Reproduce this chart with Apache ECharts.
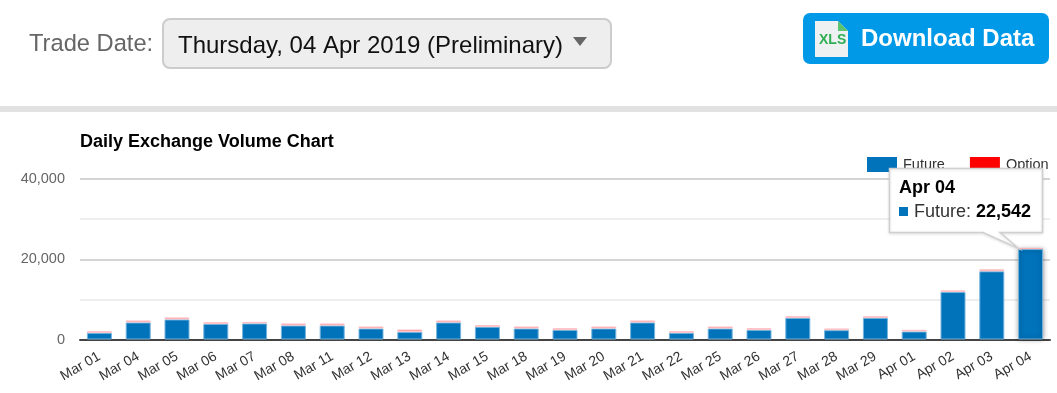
<!DOCTYPE html>
<html>
<head>
<meta charset="utf-8">
<style>html,body{margin:0;padding:0;background:#fff}#c{width:1057px;height:393px}</style>
<script src="https://cdn.jsdelivr.net/npm/echarts@6/dist/echarts.min.js"></script>
</head>
<body>
<div id="c"></div>
<script>
var categories = ['Mar 01','Mar 04','Mar 05','Mar 06','Mar 07','Mar 08','Mar 11','Mar 12','Mar 13','Mar 14','Mar 15','Mar 18','Mar 19','Mar 20','Mar 21','Mar 22','Mar 25','Mar 26','Mar 27','Mar 28','Mar 29','Apr 01','Apr 02','Apr 03','Apr 04'];
var futureValues = [1670,4250,5000,3900,4000,3500,3500,2750,1900,4250,3170,2750,2400,2750,4250,1670,2750,2400,5400,2330,5400,2000,11830,17000,22542];
var optionValues = [410,500,500,430,400,500,500,500,600,500,410,500,430,500,500,410,500,430,430,420,430,420,420,500,300];
var titleText = 'Daily Exchange Volume Chart';
var tradeDateLabel = 'Trade Date:';
var tradeDateValue = 'Thursday, 04 Apr 2019 (Preliminary)';
var downloadLabel = 'Download Data';
var tipIndex = 24;

var FONT = '"Liberation Sans", Arial, sans-serif';
var chart = echarts.init(document.getElementById('c'), null, {renderer:'canvas', width:1057, height:393});

function futureData(){
  return futureValues.map(function(v,i){
    return i===tipIndex ? {value:v,itemStyle:{shadowBlur:5,shadowColor:'rgba(0,0,0,0.45)'}} : v;
  });
}
function optionData(){
  return optionValues.map(function(v,i){
    return i===tipIndex ? {value:v,itemStyle:{color:'#ff5a5a',borderColor:'#ffb0b0'}} : v;
  });
}

chart.setOption({
  animation:false,
  backgroundColor:'#fff',
  textStyle:{fontFamily:FONT},
  tooltip:{show:false},
  grid:{left:80,right:7,top:179,bottom:53.5,containLabel:false},
  legend:{
    left:867,top:157,width:190,padding:0,itemWidth:30,itemHeight:15,itemGap:25,
    icon:'rect',orient:'horizontal',
    selectedMode:false,
    textStyle:{fontSize:14.5,color:'#333',fontFamily:FONT,padding:[3,0,0,1]},
    data:[
      {name:'Future',itemStyle:{color:'#0073bb',borderWidth:0}},
      {name:'Option',itemStyle:{color:'#ff0000',borderWidth:0}}
    ]
  },
  xAxis:{
    type:'category',data:categories,
    axisLine:{lineStyle:{color:'#444',width:2}},
    axisTick:{show:false},
    axisLabel:{rotate:30,fontSize:14,color:'#333',fontFamily:FONT,margin:16,interval:0}
  },
  yAxis:{
    type:'value',min:0,max:40000,interval:20000,
    axisLine:{show:false},axisTick:{show:false},
    axisLabel:{fontSize:14.5,color:'#666',fontFamily:FONT,margin:15,
      formatter:function(v){return v.toLocaleString('en-US');}},
    splitLine:{lineStyle:{color:'#d4d4d4',width:2}},
    minorTick:{show:false,splitNumber:2},
    minorSplitLine:{show:true,lineStyle:{color:'#eeeeee',width:2}}
  },
  series:[
    {name:'Future',type:'bar',stack:'v',barWidth:25,data:futureData(),
      itemStyle:{color:'#0073bb',borderColor:'#74b3dc',borderWidth:1},z:3},
    {name:'Option',type:'bar',stack:'v',barWidth:25,data:optionData(),
      itemStyle:{color:'#ff7d85',borderColor:'#ffc4c8',borderWidth:1},z:3}
  ]
});

var tip = chart.convertToPixel({xAxisIndex:0,yAxisIndex:0},[tipIndex,futureValues[tipIndex]+optionValues[tipIndex]]);
var tx=889.5, ty=168.5, tw=153, th=64;
var tipX=tip[0]-12, tipY=tip[1]+0.5;
var calloutPoints = [[tx,ty],[tx+tw,ty],[tx+tw,ty+th],[1000,ty+th],[tipX,tipY],[983,ty+th],[tx,ty+th]];

chart.setOption({graphic:{elements:[
  {type:'text',x:29,y:32,z:10,style:{text:tradeDateLabel,font:'23.7px '+FONT,fill:'#666'}},
  {type:'rect',z:10,shape:{x:163,y:19,width:448,height:49,r:7},style:{fill:'#eeeeee',stroke:'#cccccc',lineWidth:2}},
  {type:'text',x:178,y:34,z:11,style:{text:tradeDateValue,font:'24px '+FONT,fill:'#111'}},
  {type:'polygon',z:11,shape:{points:[[573,37],[587,37],[580,46]]},style:{fill:'#666'}},
  {type:'rect',z:10,shape:{x:803,y:13,width:246,height:51,r:7},style:{fill:'#0099e8'}},
  {type:'polygon',z:11,shape:{points:[[815,21],[838,21],[848,31],[848,57],[815,57]]},style:{fill:'#eef1f1'}},
  {type:'polygon',z:12,shape:{points:[[838,21],[848,31],[838,31]]},style:{fill:'#5cc46f'}},
  {type:'text',x:819,y:33,z:12,style:{text:'XLS',font:'bold 14px '+FONT,fill:'#2fae53'}},
  {type:'text',x:861,y:27,z:11,style:{text:downloadLabel,font:'bold 24px '+FONT,fill:'#fff'}},
  {type:'rect',z:10,shape:{x:0,y:106,width:1057,height:6},style:{fill:'#e2e2e2'}},
  {type:'text',x:80,y:133,z:10,style:{text:titleText,font:'bold 18px '+FONT,fill:'#000'}},
  {type:'polygon',z:20,shape:{points:calloutPoints},style:{fill:'#fff',stroke:'#d0d0d0',lineWidth:1.5,shadowBlur:3,shadowColor:'rgba(0,0,0,0.1)',shadowOffsetY:1}},
  {type:'text',x:899,y:179,z:21,style:{text:categories[tipIndex],font:'bold 18px '+FONT,fill:'#000'}},
  {type:'rect',z:21,shape:{x:899,y:207,width:9,height:9},style:{fill:'#0073bb'}},
  {type:'text',x:914,y:203,z:21,style:{
    text:'{a|Future: }{b|'+futureValues[tipIndex].toLocaleString('en-US')+'}',
    rich:{a:{font:'18px '+FONT,fill:'#333'},b:{font:'bold 18px '+FONT,fill:'#000'}}
  }}
]}});
</script>
</body>
</html>
